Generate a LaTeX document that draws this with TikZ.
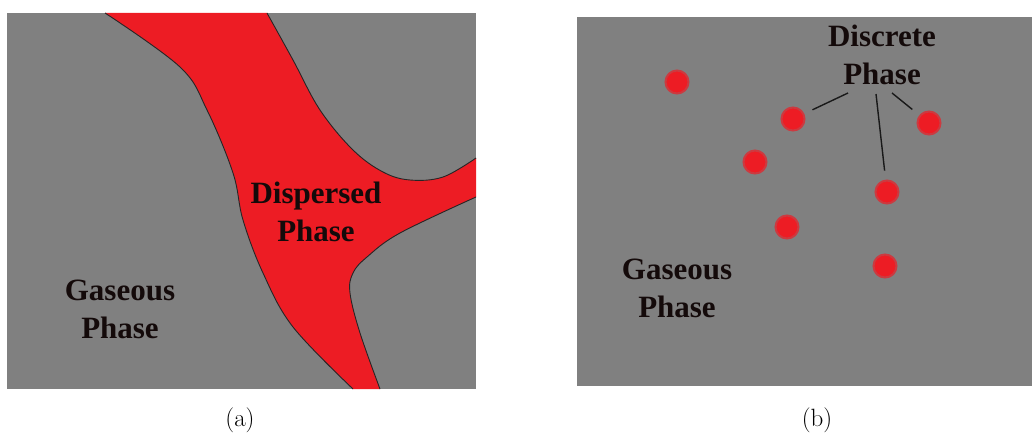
\documentclass[tikz,border=0pt]{standalone}
\usepackage{fontspec}
\newfontfamily\panelfont{Liberation Serif}
\definecolor{panelgray}{RGB}{128,128,128}
\definecolor{phasered}{RGB}{237,28,36}
\definecolor{darktext}{RGB}{20,10,10}
\begin{document}
\begin{tikzpicture}[x=1pt,y=-1pt,
  panel/.style={fill=panelgray,draw=none},
  lbl/.style={font=\panelfont\bfseries\fontsize{31}{38}\selectfont,text=darktext,align=center,inner sep=0pt},
  captext/.style={font=\fontsize{25}{29}\selectfont,inner sep=0pt},
  phasedot/.style={circle,fill=phasered,minimum size=23pt,inner sep=0pt,draw=phasered!70!panelgray,line width=2pt},
  leader/.style={draw=black!90,line width=1.4pt,shorten >=9pt},
  outline/.style={draw=black!85,line width=0.9pt}]
\useasboundingbox (0,0) rectangle (1032,441);
% ---------- panel (a) ----------
\fill[panel] (7,13) rectangle (476,389);
\fill[phasered]
  plot[smooth,tension=0.6] coordinates {(105,13) (180,67) (207,110) (233,173) (243,220) (263,273) (293,327) (353,389)}
  -- (380,389)
  -- plot[smooth,tension=0.6] coordinates {(380,389) (360,333) (350,293) (353,273) (367,257) (400,233) (476,197)}
  -- (476,158)
  -- plot[smooth,tension=0.6] coordinates {(476,158) (443,177) (410,180) (383,172) (353,150) (320,110) (293,60) (267,13)}
  -- cycle;
\draw[outline] plot[smooth,tension=0.6] coordinates {(105,13) (180,67) (207,110) (233,173) (243,220) (263,273) (293,327) (353,389)};
\draw[outline] plot[smooth,tension=0.6] coordinates {(380,389) (360,333) (350,293) (353,273) (367,257) (400,233) (476,197)};
\draw[outline] plot[smooth,tension=0.6] coordinates {(476,158) (443,177) (410,180) (383,172) (353,150) (320,110) (293,60) (267,13)};
\node[lbl] (disp) at (316,212) {Dispersed\\Phase};
\node[lbl] (gasa) at (120,309) {Gaseous\\Phase};
\node[captext] (capa) at (240,420) {(a)};
% ---------- panel (b) ----------
\fill[panel] (577,17) rectangle (1032,386);
\node[phasedot] (d1) at (677,82) {};
\node[phasedot] (d2) at (793,119) {};
\node[phasedot] (d3) at (929,123) {};
\node[phasedot] (d4) at (755,162) {};
\node[phasedot] (d5) at (887,192) {};
\node[phasedot] (d6) at (787,227) {};
\node[phasedot] (d7) at (885,266) {};
\node[lbl] (disc) at (882,55) {Discrete\\Phase};
\node[lbl] (gasb) at (677,288) {Gaseous\\Phase};
\coordinate (s1) at (848,93);
\coordinate (s2) at (876,94);
\coordinate (s3) at (892,93);
\draw[leader] (s1) -- (d2);
\draw[leader] (s2) -- (d5);
\draw[leader] (s3) -- (d3);
\node[captext] (capb) at (817,420) {(b)};
\end{tikzpicture}
\end{document}
